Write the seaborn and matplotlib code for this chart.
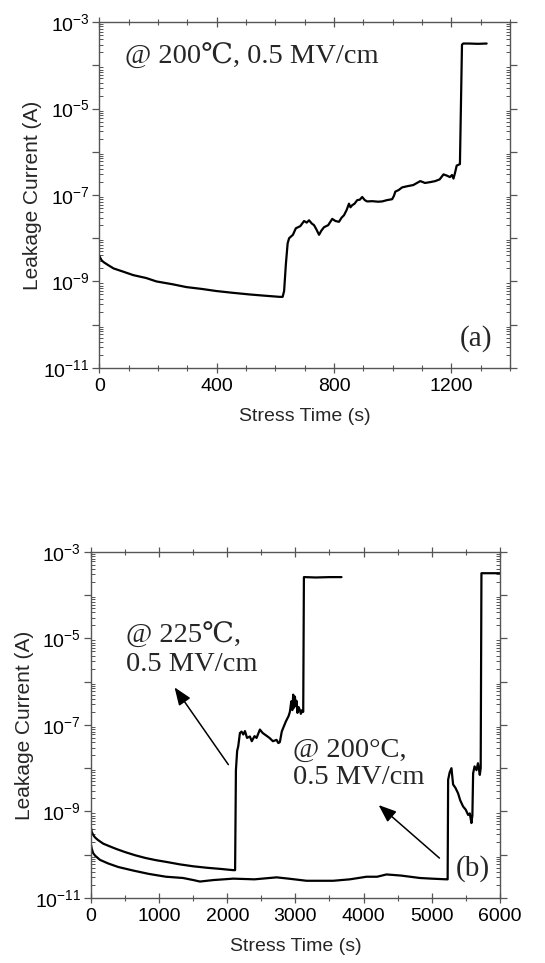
import numpy as np
import pandas as pd
import matplotlib
matplotlib.use("Agg")
import matplotlib.pyplot as plt
import matplotlib.ticker as mticker
import seaborn as sns

# Panel (a): 200 C, 0.5 MV/cm
time_a = [0, 3, 8, 15, 30, 49, 80, 116, 160, 195, 250, 297, 350, 399, 450, 512, 560, 614, 625,
          630, 636, 642, 647, 660, 670, 685, 698, 707, 715, 724, 732, 740, 749, 757, 766, 780,
          794, 805, 817, 826, 834, 843, 851, 856, 862, 870, 879, 888, 896, 905, 913, 930, 950,
          964, 980, 998, 1004, 1009, 1020, 1032, 1050, 1070, 1094, 1110, 1130, 1145, 1160, 1173,
          1185, 1195, 1202, 1207, 1212, 1218, 1224, 1229, 1233, 1236, 1240, 1260, 1290, 1320]
current_a = [4.0e-9, 3.6e-9, 3.1e-9, 2.8e-9, 2.4e-9, 2.0e-9, 1.7e-9, 1.4e-9, 1.2e-9, 1.0e-9,
             8.6e-10, 7.4e-10, 6.7e-10, 6.0e-10, 5.5e-10, 5.0e-10, 4.7e-10, 4.4e-10, 4.4e-10,
             6.0e-10, 2.5e-9, 7.6e-9, 1.0e-8, 1.2e-8, 1.7e-8, 1.9e-8, 2.5e-8, 2.3e-8, 2.6e-8,
             2.2e-8, 2.0e-8, 1.6e-8, 1.2e-8, 1.5e-8, 1.8e-8, 2.0e-8, 2.8e-8, 2.5e-8, 2.4e-8,
             3.0e-8, 3.4e-8, 4.5e-8, 6.3e-8, 5.2e-8, 5.8e-8, 6.3e-8, 7.6e-8, 7.8e-8, 9.0e-8,
             7.6e-8, 7.1e-8, 7.2e-8, 7.0e-8, 7.1e-8, 7.6e-8, 8.0e-8, 9.5e-8, 1.2e-7, 1.3e-7,
             1.5e-7, 1.6e-7, 1.7e-7, 2.1e-7, 1.9e-7, 2.0e-7, 2.1e-7, 2.3e-7, 3.0e-7, 2.8e-7,
             2.6e-7, 2.9e-7, 2.4e-7, 3.2e-7, 4.8e-7, 5.0e-7, 5.2e-7, 2.0e-5, 3.0e-4, 3.2e-4,
             3.2e-4, 3.15e-4, 3.2e-4]

# Panel (b): 225 C, 0.5 MV/cm
time_b1 = [0, 10, 30, 60, 100, 180, 280, 376, 500, 650, 800, 950, 1110, 1300, 1500, 1700,
           1900, 2088, 2115, 2127, 2145, 2161, 2186, 2210, 2235, 2260, 2290, 2332, 2360, 2400,
           2430, 2479, 2520, 2577, 2620, 2670, 2724, 2750, 2772, 2800, 2821, 2860, 2900, 2919,
           2940, 2955, 2968, 2980, 2993, 3005, 3017, 3030, 3045, 3066, 3080, 3100, 3115, 3125,
           3140, 3300, 3500, 3677]
current_b1 = [4.1e-10, 3.4e-10, 2.9e-10, 2.5e-10, 2.2e-10, 1.8e-10, 1.55e-10, 1.35e-10,
              1.15e-10, 9.7e-11, 8.4e-11, 7.5e-11, 6.8e-11, 6.0e-11, 5.4e-11, 5.0e-11,
              4.7e-11, 4.4e-11, 4.4e-11, 9.0e-9, 2.5e-8, 3.2e-8, 6.5e-8, 7.0e-8, 6.0e-8,
              7.2e-8, 5.0e-8, 5.4e-8, 4.2e-8, 5.5e-8, 5.0e-8, 7.8e-8, 6.5e-8, 5.6e-8, 5.0e-8,
              4.2e-8, 4.5e-8, 3.8e-8, 4.0e-8, 7.0e-8, 8.5e-8, 1.2e-7, 1.6e-7, 2.0e-7, 3.5e-7,
              2.2e-7, 5.0e-7, 2.5e-7, 4.5e-7, 2.8e-7, 3.6e-7, 1.9e-7, 2.6e-7, 2.2e-7, 1.8e-7,
              2.2e-7, 2.0e-7, 2.6e-4, 2.6e-4, 2.55e-4, 2.6e-4, 2.6e-4]

# Panel (b): 200 C, 0.5 MV/cm
time_b2 = [0, 10, 30, 60, 132, 250, 400, 621, 850, 1100, 1350, 1500, 1599, 1800, 2088,
           2400, 2724, 2900, 3164, 3555, 3800, 4044, 4200, 4337, 4550, 4826, 5000, 5217,
           5235, 5242, 5265, 5291, 5305, 5315, 5350, 5389, 5420, 5462, 5500, 5536, 5560,
           5584, 5598, 5609, 5630, 5658, 5680, 5707, 5720, 5731, 5760, 5900, 6000]
current_b2 = [1.7e-10, 1.4e-10, 1.1e-10, 9.5e-11, 7.6e-11, 6.3e-11, 5.2e-11, 4.3e-11, 3.6e-11,
              3.1e-11, 2.9e-11, 2.6e-11, 2.4e-11, 2.6e-11, 2.8e-11, 2.7e-11, 3.0e-11, 2.8e-11,
              2.5e-11, 2.5e-11, 2.7e-11, 3.1e-11, 3.1e-11, 3.5e-11, 3.3e-11, 2.9e-11, 2.8e-11,
              2.7e-11, 2.7e-11, 5.4e-9, 8.0e-9, 1.0e-8, 6.0e-9, 4.2e-9, 3.5e-9, 2.6e-9, 1.8e-9,
              1.3e-9, 1.1e-9, 8.3e-10, 9.0e-10, 5.4e-10, 8.0e-10, 7.6e-9, 1.1e-8, 9.0e-9,
              1.3e-8, 7.0e-9, 1.0e-8, 3.2e-4, 3.2e-4, 3.2e-4, 3.2e-4]

LIMS_Y = (1e-11, 1e-3)

sns.set_theme(style="ticks")
plt.rcParams["font.family"] = ["Liberation Sans", "DejaVu Sans"]
plt.rcParams["mathtext.fontset"] = "custom"
plt.rcParams["mathtext.rm"] = "Liberation Sans"

fig = plt.figure(figsize=(5.45, 9.63), dpi=100)
ax_a = fig.add_axes([0.182, 0.618, 0.754, 0.359])
ax_b = fig.add_axes([0.167, 0.0675, 0.750, 0.3595])

serif = ["Liberation Serif", "DejaVu Serif"]


def style_axis(ax, xmax, xmajor, xminor, xlabel_ticks):
    ax.set_yscale("log")
    ax.set_ylim(*LIMS_Y)
    ax.set_xlim(0, xmax)
    ax.xaxis.set_major_locator(mticker.MultipleLocator(xmajor))
    ax.xaxis.set_minor_locator(mticker.MultipleLocator(xminor))
    ax.yaxis.set_major_locator(mticker.LogLocator(base=10, numticks=20))
    ax.yaxis.set_minor_locator(mticker.LogLocator(base=10, subs=np.arange(2, 10), numticks=20))

    def yfmt(v, pos):
        e = int(round(np.log10(v)))
        return r"$\mathregular{10^{%d}}$" % e if e % 2 != 0 else ""

    ax.yaxis.set_major_formatter(mticker.FuncFormatter(yfmt))
    ax.xaxis.set_major_formatter(mticker.FuncFormatter(
        lambda v, p: "%d" % v if v in xlabel_ticks else ""))
    ax.tick_params(axis="both", which="both", top=True, right=True, colors="#555555",
                   labelcolor="black", labelsize=14)
    ax.tick_params(axis="x", which="major", direction="inout", length=7, width=0.9, pad=4)
    ax.tick_params(axis="x", which="minor", direction="inout", length=4, width=0.8)
    ax.tick_params(axis="y", which="major", direction="out", length=5, width=0.9, pad=2)
    ax.tick_params(axis="y", which="minor", direction="in", length=3, width=0.7)
    for s in ax.spines.values():
        s.set_color("#555555")
        s.set_linewidth(1.0)
    ax.set_xlabel("Stress Time (s)", fontsize=14, labelpad=9)
    ax.set_ylabel("Leakage Current (A)", fontsize=15, labelpad=1)
    ax.grid(False)


# Panel (a)
df_a = pd.DataFrame({"t": time_a, "I": current_a})
sns.lineplot(data=df_a, x="t", y="I", ax=ax_a, color="black", linewidth=1.6, sort=False)
style_axis(ax_a, 1400, 400, 100, [0, 400, 800, 1200])
ax_a.text(0.063, 0.899, "@ 200℃, 0.5 MV/cm", transform=ax_a.transAxes,
          fontsize=20.5, family=serif, ha="left", va="center")
ax_a.text(0.956, 0.084, "(a)", transform=ax_a.transAxes, fontsize=21, family=serif,
          ha="right", va="center")

# Panel (b)
df_b = pd.concat([
    pd.DataFrame({"t": time_b1, "I": current_b1, "run": "225"}),
    pd.DataFrame({"t": time_b2, "I": current_b2, "run": "200"}),
])
sns.lineplot(data=df_b, x="t", y="I", units="run", estimator=None, ax=ax_b,
             color="black", linewidth=1.6, sort=False)
style_axis(ax_b, 6000, 1000, 500, [0, 1000, 2000, 3000, 4000, 5000, 6000])
ax_b.text(0.085, 0.717, "@ 225℃,\n0.5 MV/cm", transform=ax_b.transAxes, fontsize=20.5,
          family=serif, ha="left", va="center", linespacing=1.15)
ax_b.text(0.495, 0.387, "@ 200°C,\n0.5 MV/cm", transform=ax_b.transAxes, fontsize=20.5,
          family=serif, ha="left", va="center", linespacing=1.15)
ax_b.text(0.976, 0.084, "(b)", transform=ax_b.transAxes, fontsize=21, family=serif,
          ha="right", va="center")
arrow = dict(arrowstyle="-|>,head_length=0.9,head_width=0.35", color="black", lw=1.1)
ax_b.annotate("", xy=(1203, 10 ** -6.08), xytext=(2039, 10 ** -7.97), arrowprops=arrow)
ax_b.annotate("", xy=(4191, 10 ** -8.81), xytext=(5145, 10 ** -10.12), arrowprops=arrow)

fig.savefig("out.png", dpi=100)
